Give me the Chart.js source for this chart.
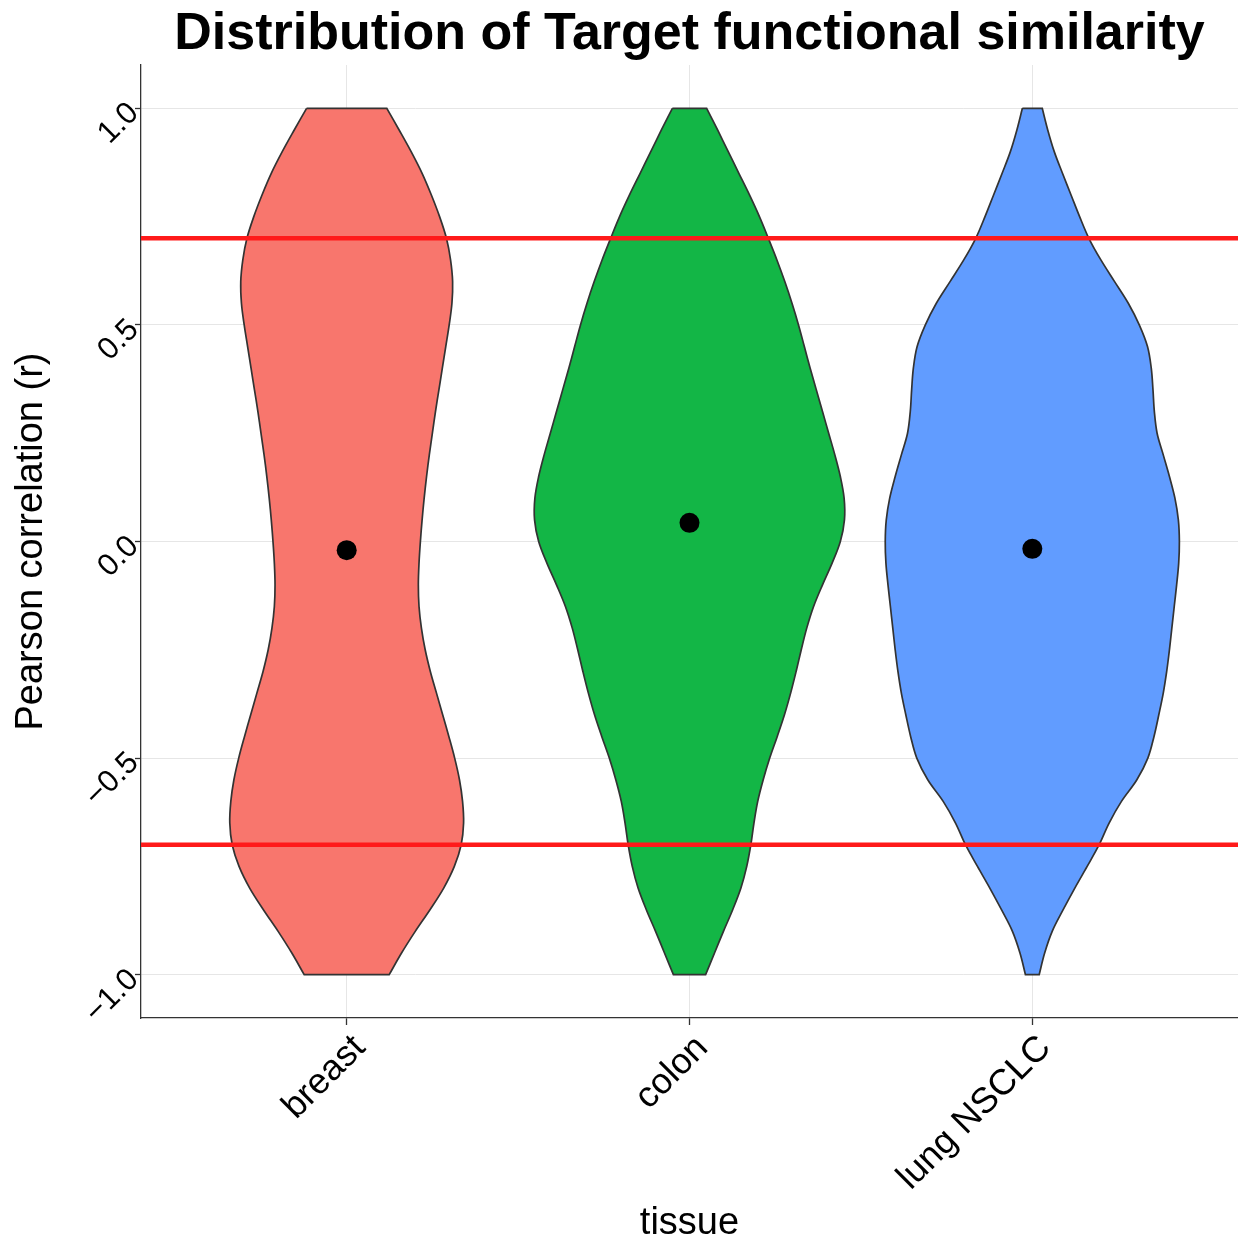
<!DOCTYPE html>
<html>
<head>
<meta charset="utf-8">
<script src="https://cdn.jsdelivr.net/npm/chart.js@4/dist/chart.umd.min.js"></script>
<style>
  html, body { margin: 0; padding: 0; background: #ffffff; }
  #wrap { width: 1238px; height: 1243px; position: relative; }
</style>
</head>
<body>
<div id="wrap"><canvas id="c"></canvas></div>
<script>
// ---------- data ----------
const chartTitle = 'Distribution of Target functional similarity';
const xTitle = 'tissue';
const yTitle = 'Pearson correlation (r)';
const categories = ['breast', 'colon', 'lung NSCLC'];
const fillColors = ['#F8766D', '#13B646', '#619CFF'];
const yTickValues = [-1.0, -0.5, 0.0, 0.5, 1.0];
const thresholdValues = [0.7, -0.7];
const meanValues = [-0.020, 0.043, -0.017];

// density grid (Pearson r) from 1.0 down to -1.0
const densityY = [1.00, 0.95, 0.90, 0.85, 0.80, 0.75, 0.70, 0.65, 0.60, 0.55, 0.50,
                  0.45, 0.40, 0.35, 0.30, 0.25, 0.20, 0.15, 0.10, 0.05, 0.00,
                  -0.05, -0.10, -0.15, -0.20, -0.25, -0.30, -0.35, -0.40, -0.45, -0.50,
                  -0.55, -0.60, -0.65, -0.70, -0.75, -0.80, -0.85, -0.90, -0.95, -1.00];
// violin half-widths (in category units) at each densityY value
const breastHalfWidth = [0.117, 0.153, 0.188, 0.220, 0.247, 0.271, 0.291, 0.303, 0.309, 0.307, 0.299,
                         0.289, 0.279, 0.269, 0.259, 0.250, 0.241, 0.233, 0.226, 0.220, 0.215,
                         0.211, 0.209, 0.211, 0.218, 0.229, 0.244, 0.262, 0.280, 0.298, 0.315,
                         0.329, 0.338, 0.341, 0.334, 0.314, 0.283, 0.243, 0.200, 0.160, 0.124];
const colonHalfWidth  = [0.050, 0.082, 0.113, 0.144, 0.175, 0.204, 0.230, 0.255, 0.278, 0.299, 0.318,
                         0.335, 0.352, 0.370, 0.388, 0.406, 0.424, 0.440, 0.451, 0.452, 0.440,
                         0.416, 0.388, 0.362, 0.342, 0.326, 0.311, 0.295, 0.277, 0.256, 0.234,
                         0.215, 0.199, 0.188, 0.179, 0.167, 0.150, 0.126, 0.099, 0.073, 0.047];
const lungHalfWidth   = [0.029, 0.045, 0.064, 0.088, 0.113, 0.138, 0.165, 0.200, 0.240, 0.280, 0.312,
                         0.336, 0.347, 0.352, 0.356, 0.364, 0.382, 0.400, 0.416, 0.426, 0.429,
                         0.427, 0.421, 0.414, 0.407, 0.400, 0.392, 0.382, 0.369, 0.355, 0.337,
                         0.305, 0.260, 0.224, 0.195, 0.160, 0.124, 0.090, 0.058, 0.036, 0.020];
const halfWidths = [breastHalfWidth, colonHalfWidth, lungHalfWidth];

// ---------- axis limits ----------
const X_MIN = 0.4, X_MAX = 3.6;
const Y_MIN = -1.1, Y_MAX = 1.1;

const FONT = "'Liberation Sans', Arial, Helvetica, sans-serif";
Chart.defaults.font.family = FONT;
Chart.defaults.color = '#000000';

function violinOutline(center, hw) {
  const left = densityY.map((y, i) => ({ x: center - hw[i], y: y }));
  const right = densityY.map((y, i) => ({ x: center + hw[i], y: y })).reverse();
  // duplicated end points keep the flat caps straight with curved sides
  return [left[0], ...left, left[left.length - 1],
          right[0], ...right, right[right.length - 1], left[0]];
}

const datasets = [];
categories.forEach((cat, i) => {
  datasets.push({
    type: 'line',
    label: cat,
    indexAxis: 'y',
    data: violinOutline(i + 1, halfWidths[i]),
    borderColor: '#333333',
    borderWidth: 1.7,
    backgroundColor: fillColors[i],
    fill: 'shape',
    tension: 0.35,
    pointRadius: 0,
    pointHoverRadius: 0,
    order: 3
  });
});
thresholdValues.forEach(v => {
  datasets.push({
    type: 'line',
    label: 'threshold ' + v,
    data: [{ x: X_MIN, y: v }, { x: X_MAX, y: v }],
    borderColor: '#FF1A1A',
    borderWidth: 4.5,
    pointRadius: 0,
    fill: false,
    order: 2
  });
});
datasets.push({
  type: 'scatter',
  label: 'mean',
  data: meanValues.map((v, i) => ({ x: i + 1, y: v })),
  backgroundColor: '#000000',
  borderColor: '#000000',
  borderWidth: 0,
  pointRadius: 10,
  order: 1
});

const fmt = v => (v < 0 ? '\u2212' : '') + Math.abs(v).toFixed(1);

new Chart(document.getElementById('c'), {
  type: 'line',
  data: { datasets: datasets },
  options: {
    responsive: true,
    maintainAspectRatio: false,
    animation: false,
    devicePixelRatio: 1,
    layout: { padding: 0, autoPadding: false },
    plugins: {
      legend: { display: false },
      tooltip: { enabled: false },
      title: {
        display: true,
        text: chartTitle,
        fullSize: false,
        color: '#000000',
        font: { family: FONT, size: 52, weight: 'bold', lineHeight: 1 },
        padding: { top: 9, bottom: 4 }
      }
    },
    scales: {
      x: {
        type: 'linear',
        position: 'bottom',
        min: X_MIN,
        max: X_MAX,
        afterBuildTicks: s => { s.ticks = categories.map((c, i) => ({ value: i + 1 })); },
        afterFit: s => { s.height = 225; s.paddingLeft = 0; s.paddingRight = 0; },
        grid: { color: '#E6E6E6', lineWidth: 1, tickColor: '#333333', tickLength: 7, tickWidth: 1.3 },
        border: { display: true, color: '#333333', width: 1.3 },
        ticks: {
          autoSkip: false,
          minRotation: 45,
          maxRotation: 45,
          padding: 2,
          labelOffset: 13,
          color: '#000000',
          font: { family: FONT, size: 36 },
          callback: v => categories[Math.round(v) - 1]
        },
        title: {
          display: true,
          text: xTitle,
          color: '#000000',
          font: { family: FONT, size: 38, lineHeight: 1 },
          padding: { top: 0, bottom: 0 }
        }
      },
      y: {
        type: 'linear',
        min: Y_MIN,
        max: Y_MAX,
        afterBuildTicks: s => { s.ticks = yTickValues.map(v => ({ value: v })); },
        afterFit: s => { s.width = 141; s.paddingTop = 0; s.paddingBottom = 0; },
        grid: { color: '#E6E6E6', lineWidth: 1, tickColor: '#333333', tickLength: 6, tickWidth: 1.3 },
        border: { display: true, color: '#333333', width: 1.3 },
        ticks: {
          minRotation: 45,
          maxRotation: 45,
          padding: 1,
          color: '#000000',
          font: { family: FONT, size: 31 },
          callback: v => fmt(v)
        },
        title: {
          display: true,
          text: yTitle,
          color: '#000000',
          font: { family: FONT, size: 38, lineHeight: 1 },
          padding: { top: 13, bottom: 0 }
        }
      }
    }
  }
});
</script>
</body>
</html>
